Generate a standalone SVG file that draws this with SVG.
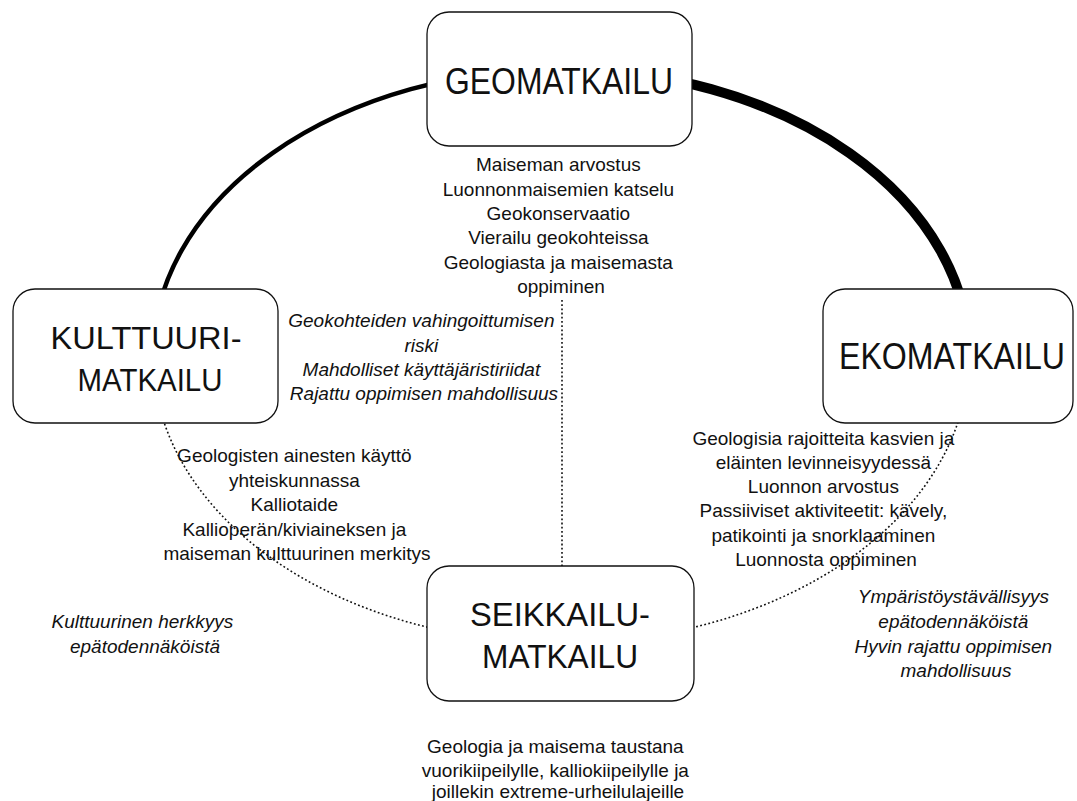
<svg xmlns="http://www.w3.org/2000/svg" width="1077" height="801" viewBox="0 0 1077 801">
  <style>
    .box { fill: #ffffff; stroke: #111111; stroke-width: 1.3; }
    .title { font-family: "Liberation Sans", Arial, Helvetica, sans-serif; fill: #111111; text-anchor: middle; }
    .body { font-family: "Liberation Sans", Arial, Helvetica, sans-serif; font-size: 19px; fill: #111111; text-anchor: middle; }
    .it { font-style: italic; }
    .solid { fill: none; stroke: #000000; }
    .dots { fill: none; stroke: #111111; stroke-width: 1.6; stroke-dasharray: 1.8 2.4; }
  </style>

  <!-- ring of relations (ellipse centre 561,356; rx 408, ry 287) -->
  <g id="connectors">
    <path class="solid" stroke-width="4.5" d="M 153 356 A 408 287 0 0 1 561 69"/>
    <path class="solid" stroke-width="10" d="M 561 69 A 408 287 0 0 1 969 356"/>
    <path class="dots" d="M 969 356 A 408 287 0 0 1 561 643"/>
    <path class="dots" d="M 561 643 A 408 287 0 0 1 153 356"/>
    <line class="dots" x1="562" y1="300" x2="562" y2="566"/>
  </g>

  <g id="node-geomatkailu">
    <rect class="box" x="427" y="12" width="265" height="134" rx="22" ry="22"/>
    <text class="title" x="559" y="94" font-size="36" textLength="228" lengthAdjust="spacingAndGlyphs">GEOMATKAILU</text>
  </g>

  <g id="node-kulttuurimatkailu">
    <rect class="box" x="13" y="289" width="265" height="134" rx="22" ry="22"/>
    <text class="title" x="146" y="349" font-size="31" textLength="191" lengthAdjust="spacingAndGlyphs">KULTTUURI-</text>
    <text class="title" x="150" y="391" font-size="31" textLength="145" lengthAdjust="spacingAndGlyphs">MATKAILU</text>
  </g>

  <g id="node-ekomatkailu">
    <rect class="box" x="823" y="289" width="250" height="134" rx="22" ry="22"/>
    <text class="title" x="952" y="369" font-size="36" textLength="226" lengthAdjust="spacingAndGlyphs">EKOMATKAILU</text>
  </g>

  <g id="node-seikkailumatkailu">
    <rect class="box" x="427" y="566" width="267" height="135" rx="22" ry="22"/>
    <text class="title" x="560" y="626" font-size="33.5" textLength="180" lengthAdjust="spacingAndGlyphs">SEIKKAILU-</text>
    <text class="title" x="560" y="668" font-size="33.5" textLength="156" lengthAdjust="spacingAndGlyphs">MATKAILU</text>
  </g>

  <g id="labels">
    <text class="body">
      <tspan x="561" y="171">Maiseman arvostus</tspan>
      <tspan x="561" y="196">Luonnonmaisemien katselu</tspan>
      <tspan x="561" y="220">Geokonservaatio</tspan>
      <tspan x="561" y="244">Vierailu geokohteissa</tspan>
      <tspan x="561" y="269">Geologiasta ja maisemasta</tspan>
      <tspan x="561" y="293">oppiminen</tspan>
    </text>
    <text class="body it">
      <tspan x="424" y="327">Geokohteiden vahingoittumisen</tspan>
      <tspan x="424" y="352">riski</tspan>
      <tspan x="424" y="376">Mahdolliset käyttäjäristiriidat</tspan>
      <tspan x="424" y="400">Rajattu oppimisen mahdollisuus</tspan>
    </text>
    <text class="body">
      <tspan x="297" y="462">Geologisten ainesten käyttö</tspan>
      <tspan x="297" y="487">yhteiskunnassa</tspan>
      <tspan x="297" y="511">Kalliotaide</tspan>
      <tspan x="297" y="536">Kallioperän/kiviaineksen ja</tspan>
      <tspan x="297" y="560">maiseman kulttuurinen merkitys</tspan>
    </text>
    <text class="body it">
      <tspan x="145" y="628">Kulttuurinen herkkyys</tspan>
      <tspan x="145" y="653">epätodennäköistä</tspan>
    </text>
    <text class="body">
      <tspan x="826" y="445">Geologisia rajoitteita kasvien ja</tspan>
      <tspan x="826" y="469">eläinten levinneisyydessä</tspan>
      <tspan x="826" y="493">Luonnon arvostus</tspan>
      <tspan x="826" y="517">Passiiviset aktiviteetit: kävely,</tspan>
      <tspan x="826" y="542">patikointi ja snorklaaminen</tspan>
      <tspan x="826" y="566">Luonnosta oppiminen</tspan>
    </text>
    <text class="body it">
      <tspan x="956" y="603">Ympäristöystävällisyys</tspan>
      <tspan x="956" y="628">epätodennäköistä</tspan>
      <tspan x="956" y="653">Hyvin rajattu oppimisen</tspan>
      <tspan x="956" y="677">mahdollisuus</tspan>
    </text>
    <text class="body">
      <tspan x="558" y="753">Geologia ja maisema taustana</tspan>
      <tspan x="558" y="777">vuorikiipeilylle, kalliokiipeilylle ja</tspan>
      <tspan x="558" y="798">joillekin extreme-urheilulajeille</tspan>
    </text>
  </g>
</svg>
